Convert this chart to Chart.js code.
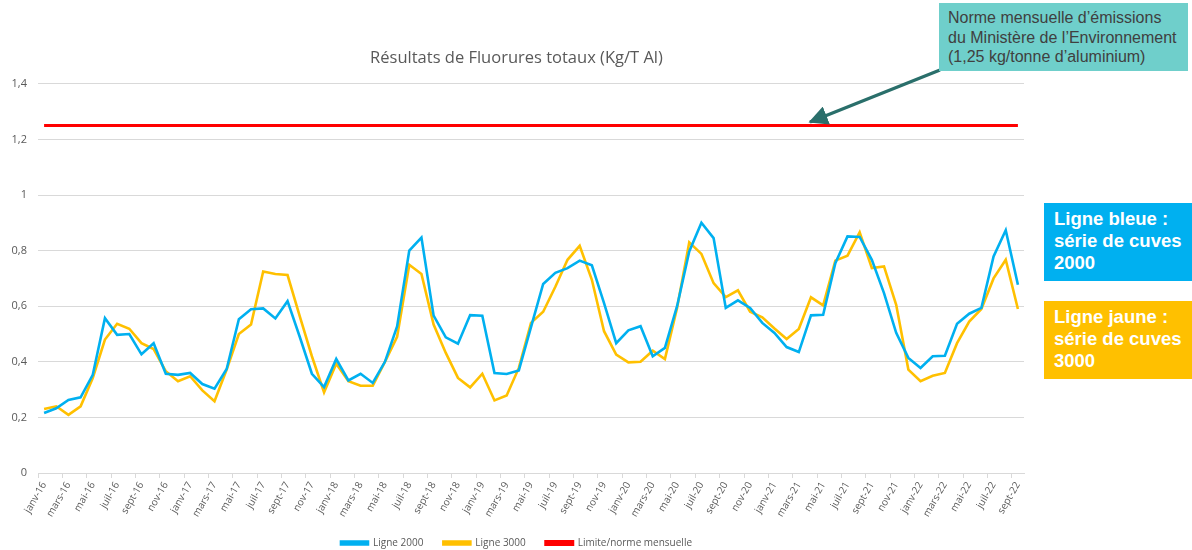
<!DOCTYPE html>
<html lang="fr">
<head>
<meta charset="utf-8">
<script src="https://cdn.jsdelivr.net/npm/chart.js@4"></script>
<style>
  html, body { margin: 0; padding: 0; background: #fff; }
  #wrap { position: relative; width: 1192px; height: 550px; overflow: hidden; }
  #chart { position: absolute; left: 0; top: 0; }
  .note {
    position: absolute; left: 939px; top: 3px; width: 249px; height: 68px;
    padding: 5px 0 0 9px; background: #6fcfcb; color: #404040;
    font-family: "Liberation Sans", Arial, sans-serif; font-size: 16px; line-height: 19.5px;
    box-sizing: border-box;
  }
  .tag {
    position: absolute; left: 1044px; width: 148px; height: 78px; box-sizing: border-box;
    padding: 5px 0 0 10px; color: #fff; font-weight: bold;
    font-family: "Liberation Sans", Arial, sans-serif; font-size: 18.5px; line-height: 22px;
  }
  #arrow { position: absolute; left: 0; top: 0; pointer-events: none; }
</style>
</head>
<body>
<div id="wrap">
  <canvas id="chart" width="1192" height="550"></canvas>
  <svg id="arrow" width="1192" height="550">
    <defs>
      <marker id="head" markerWidth="6" markerHeight="6" refX="5.5" refY="3" orient="auto" markerUnits="strokeWidth">
        <path d="M0,0 L6,3 L0,6 z" fill="#2a6f6b"></path>
      </marker>
    </defs>
    <line x1="940" y1="70" x2="810" y2="122" stroke="#2a6f6b" stroke-width="3.2" marker-end="url(#head)"></line>
  </svg>
  <div class="note">Norme mensuelle d’émissions<br>du Ministère de l’Environnement<br>(1,25 kg/tonne d’aluminium)</div>
  <div class="tag" style="top:203px;background:#00b0f0;">Ligne bleue :<br>série de cuves<br>2000</div>
  <div class="tag" style="top:301px;background:#ffc000;">Ligne jaune :<br>série de cuves<br>3000</div>
</div>
<script>
const mois = ["janv", "févr", "mars", "avr", "mai", "juin", "juil", "août", "sept", "oct", "nov", "déc"];
const annees = ["16", "17", "18", "19", "20", "21", "22"];

const ligne2000 = [
  0.216, 0.233, 0.263, 0.272, 0.353, 0.557, 0.497, 0.500, 0.427, 0.467, 0.357, 0.353,
  0.360, 0.320, 0.303, 0.374, 0.553, 0.589, 0.592, 0.556, 0.618, 0.490, 0.357, 0.309,
  0.410, 0.333, 0.357, 0.324, 0.400, 0.527, 0.800, 0.847, 0.566, 0.488, 0.465, 0.568,
  0.566, 0.360, 0.356, 0.369, 0.525, 0.680, 0.720, 0.737, 0.764, 0.747, 0.611, 0.467,
  0.513, 0.528, 0.420, 0.450, 0.600, 0.797, 0.900, 0.845, 0.594, 0.621, 0.594, 0.540,
  0.504, 0.453, 0.435, 0.567, 0.569, 0.755, 0.851, 0.849, 0.767, 0.647, 0.504, 0.414,
  0.378, 0.420, 0.422, 0.537, 0.573, 0.594, 0.779, 0.873, 0.677
];

const ligne3000 = [
  0.230, 0.240, 0.209, 0.240, 0.342, 0.480, 0.537, 0.519, 0.467, 0.446, 0.366, 0.330,
  0.348, 0.297, 0.258, 0.372, 0.500, 0.534, 0.725, 0.716, 0.712, 0.564, 0.420, 0.290,
  0.393, 0.330, 0.314, 0.314, 0.400, 0.490, 0.749, 0.716, 0.534, 0.432, 0.342, 0.308,
  0.357, 0.261, 0.279, 0.378, 0.540, 0.580, 0.670, 0.767, 0.817, 0.695, 0.510, 0.426,
  0.398, 0.400, 0.440, 0.410, 0.594, 0.830, 0.788, 0.683, 0.633, 0.657, 0.580, 0.560,
  0.520, 0.482, 0.518, 0.632, 0.603, 0.764, 0.782, 0.866, 0.737, 0.743, 0.605, 0.372,
  0.330, 0.350, 0.360, 0.467, 0.545, 0.590, 0.700, 0.767, 0.590
];

const limite = 1.25;

// janv-16 ... sept-22
const labels = [];
annees.forEach(a => mois.forEach(m => labels.push(m + "-" + a)));
labels.length = ligne2000.length;

const gris = "#595959";
const police = "'Open Sans', sans-serif";

new Chart(document.getElementById("chart"), {
  type: "line",
  data: {
    labels: labels,
    datasets: [
      { label: "Ligne 2000", data: ligne2000, borderColor: "#00b0f0", backgroundColor: "#00b0f0", borderWidth: 2.6 },
      { label: "Ligne 3000", data: ligne3000, borderColor: "#ffc000", backgroundColor: "#ffc000", borderWidth: 2.6 },
      { label: "Limite/norme mensuelle", data: labels.map(() => limite), borderColor: "#ff0000", backgroundColor: "#ff0000", borderWidth: 3 }
    ]
  },
  options: {
    responsive: false,
    animation: false,
    elements: { point: { radius: 0 }, line: { tension: 0 } },
    layout: { padding: { left: 9, right: 168, top: 0, bottom: 0 } },
    plugins: {
      title: {
        display: true,
        text: "Résultats de Fluorures totaux (Kg/T Al)",
        color: gris,
        font: { family: police, size: 16.5, weight: "normal" },
        padding: { top: 48, bottom: 16 }
      },
      legend: {
        position: "bottom",
        maxHeight: 32,
        labels: {
          color: gris,
          font: { family: police, size: 10 },
          boxWidth: 27,
          boxHeight: 3,
          padding: 20
        }
      },
      tooltip: { enabled: false }
    },
    scales: {
      x: {
        offset: true,
        afterFit: s => { s.height = 45; },
        grid: {
          offset: true,
          drawOnChartArea: false,
          tickLength: 5,
          color: c => (c.index % 2 === 0 ? "#d9d9d9" : "rgba(0,0,0,0)")
        },
        border: { color: "#d9d9d9" },
        ticks: {
          autoSkip: false,
          maxRotation: 60,
          minRotation: 60,
          color: gris,
          padding: 2,
          font: { family: police, size: 10 },
          callback: function (v, i) { return i % 2 === 0 ? this.getLabelForValue(v) : ""; }
        }
      },
      y: {
        min: 0,
        max: 1.4,
        afterFit: s => { s.width = 29; },
        grid: { color: "#d9d9d9", drawTicks: false },
        border: { display: false },
        ticks: {
          stepSize: 0.2,
          padding: 11,
          color: gris,
          font: { family: police, size: 11 },
          callback: v => String(Math.round(v * 10) / 10).replace(".", ",")
        }
      }
    }
  }
});
</script>
</body>
</html>
